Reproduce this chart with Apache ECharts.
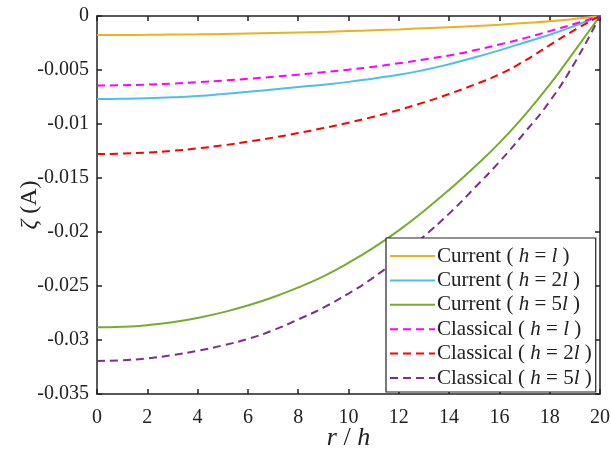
<!DOCTYPE html>
<html><head><meta charset="utf-8">
<script src="https://cdn.jsdelivr.net/npm/echarts@6/dist/echarts.min.js"></script>
<style>html,body{margin:0;padding:0;background:#fff}#c{width:611px;height:451px}</style>
</head><body><div id="c"></div>
<script>
const r = [0,1,2,3,4,5,6,7,8,9,10,11,12,13,14,15,16,17,18,19,20];
const currentH1 = [-0.00175,-0.00175,-0.00174,-0.00172,-0.00170,-0.00167,-0.00163,-0.00158,-0.00153,-0.00147,-0.00140,-0.00132,-0.00124,-0.00114,-0.00104,-0.00093,-0.00080,-0.00065,-0.00049,-0.00026,0];
const currentH2 = [-0.00769,-0.00767,-0.00762,-0.00753,-0.00740,-0.00722,-0.00702,-0.00680,-0.00658,-0.00636,-0.00610,-0.00578,-0.00545,-0.00500,-0.00446,-0.00385,-0.00318,-0.00245,-0.00173,-0.00090,0];
const currentH5 = [-0.02883,-0.02878,-0.02863,-0.02836,-0.02796,-0.02744,-0.02680,-0.02604,-0.02514,-0.02410,-0.02285,-0.02145,-0.01985,-0.01805,-0.01610,-0.01400,-0.01175,-0.00920,-0.00635,-0.00320,0];
const classicalH1 = [-0.00643,-0.00641,-0.00635,-0.00626,-0.00613,-0.00598,-0.00582,-0.00563,-0.00543,-0.00521,-0.00497,-0.00470,-0.00438,-0.00403,-0.00365,-0.00318,-0.00264,-0.00205,-0.00140,-0.00072,0];
const classicalH2 = [-0.01278,-0.01274,-0.01264,-0.01248,-0.01226,-0.01198,-0.01164,-0.01126,-0.01084,-0.01038,-0.00988,-0.00932,-0.00870,-0.00800,-0.00722,-0.00636,-0.00540,-0.00415,-0.00270,-0.00128,0];
const classicalH5 = [-0.03194,-0.03188,-0.03170,-0.03140,-0.03100,-0.03050,-0.02990,-0.02910,-0.02810,-0.02700,-0.02570,-0.02420,-0.02240,-0.02040,-0.01830,-0.01595,-0.01350,-0.01080,-0.00790,-0.00430,0];
const seriesNames = ['Current ( {i|h} = {i|l} )','Current ( {i|h} = 2{i|l} )','Current ( {i|h} = 5{i|l} )','Classical ( {i|h} = {i|l} )','Classical ( {i|h} = 2{i|l} )','Classical ( {i|h} = 5{i|l} )'];
const seriesData = [currentH1,currentH2,currentH5,classicalH1,classicalH2,classicalH5];
const colors = ['#EDB120','#4DBEEE','#77AC30','#FF00FF','#FF0000','#7E2F8E'];
const dashed = [false,false,false,true,true,true];

const FONT = 'Liberation Serif';
const chart = echarts.init(document.getElementById('c'), null, {renderer:'canvas'});
const series = seriesData.map((d,k)=>({
  name: seriesNames[k], type:'line', smooth:true, symbol:'none',
  data: r.map((x,i)=>[x,d[i]]),
  lineStyle:{color:colors[k], width:2, type: dashed[k]?[8,5]:'solid'},
  itemStyle:{color:colors[k]}, z: 2
}));
const axisCommon = {
  axisLine:{show:true, onZero:false, lineStyle:{color:'#222', width:1.5}},
  axisTick:{show:true, inside:true, length:5, lineStyle:{color:'#222', width:1.5}},
  splitLine:{show:false}
};
chart.setOption({
  animation:false,
  backgroundColor:'#fff',
  grid:{left:97, right:11, top:16, bottom:57, containLabel:false, outerBoundsMode:'none'},
  xAxis:[
    Object.assign({type:'value', min:0, max:20, interval:2, position:'bottom',
      axisLabel:{color:'#222', fontFamily:FONT, fontSize:20, margin:14},
      name:'{i|r} / {i|h}', nameLocation:'middle', nameGap:31, nameMoveOverlap:false,
      nameTextStyle:{color:'#222', fontFamily:FONT, fontSize:26, rich:{i:{fontStyle:'italic', fontFamily:FONT, fontSize:26, color:'#222'}}}
    }, axisCommon),
    Object.assign({type:'value', min:0, max:20, interval:2, position:'top', axisLabel:{show:false}}, axisCommon)
  ],
  yAxis:[
    Object.assign({type:'value', min:-0.035, max:0, interval:0.005, position:'left',
      axisLabel:{color:'#222', fontFamily:FONT, fontSize:20, margin:8,
        formatter:v=>String(parseFloat(v.toFixed(3)))},
      name:'{i|ζ} (A)', nameLocation:'middle', nameGap:55, nameRotate:90, nameMoveOverlap:false,
      nameTextStyle:{color:'#222', fontFamily:FONT, fontSize:24, rich:{i:{fontStyle:'italic', fontFamily:FONT, fontSize:24, color:'#222'}}}
    }, axisCommon),
    Object.assign({type:'value', min:-0.035, max:0, interval:0.005, position:'right', axisLabel:{show:false}}, axisCommon)
  ],
  legend:{
    show:true, orient:'vertical', left:386, top:238,
    backgroundColor:'#fff', borderColor:'#222', borderWidth:1.2,
    padding:[7,4,3,3],
    itemWidth:45, itemHeight:10, itemGap:2.4,
    itemStyle:{opacity:0},
    textStyle:{color:'#222', fontFamily:FONT, fontSize:21, lineHeight:22, padding:[0,0,0,-3],
      rich:{i:{fontStyle:'italic', fontFamily:FONT, fontSize:21, lineHeight:22, color:'#222'}}},
    data: seriesNames
  },
  series: series
});
</script></body></html>
